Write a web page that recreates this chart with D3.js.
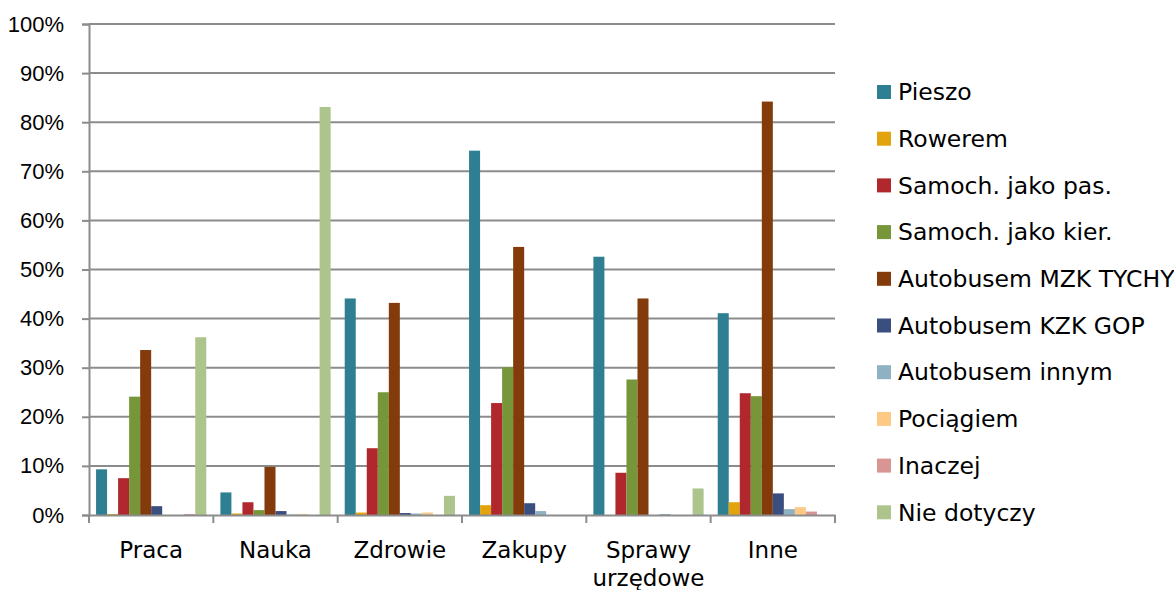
<!DOCTYPE html>
<html>
<head>
<meta charset="utf-8">
<script src="https://cdn.jsdelivr.net/npm/d3@7"></script>
<style>
  body { margin: 0; background: #fff; overflow: hidden; }
  svg { display: block; }
</style>
</head>
<body>
<svg id="chart"></svg>
<script>
const categories = ["Praca", "Nauka", "Zdrowie", "Zakupy", "Sprawy urzędowe", "Inne"];
const seriesNames = [
  "Pieszo", "Rowerem", "Samoch. jako pas.", "Samoch. jako kier.",
  "Autobusem MZK TYCHY", "Autobusem KZK GOP", "Autobusem innym",
  "Pociągiem", "Inaczej", "Nie dotyczy"
];
const colors = [
  "#2e7f92", "#e3a30c", "#b0282d", "#77963a", "#833b0b",
  "#3b4e80", "#8fb2c2", "#fdc984", "#d99594", "#adc48d"
];
// values per series, in category order (%)
const pieszo = [9.3, 4.6, 44.1, 74.2, 52.6, 41.1];
const rowerem = [0.2, 0.3, 0.5, 2.0, 0, 2.6];
const samochPas = [7.5, 2.6, 13.6, 22.8, 8.6, 24.8];
const samochKier = [24.1, 1.0, 25.0, 30.1, 27.6, 24.2];
const mzkTychy = [33.6, 9.8, 43.2, 54.6, 44.1, 84.2];
const kzkGop = [1.8, 0.8, 0.4, 2.4, 0, 4.4];
const innym = [0, 0.1, 0.3, 0.8, 0.2, 1.2];
const pociagiem = [0, 0.2, 0.5, 0, 0, 1.6];
const inaczej = [0.2, 0, 0, 0, 0, 0.7];
const nieDotyczy = [36.2, 83.1, 3.9, 0, 5.4, 0];
const yTicks = [0, 10, 20, 30, 40, 50, 60, 70, 80, 90, 100];

const series = [pieszo, rowerem, samochPas, samochKier, mzkTychy, kzkGop, innym, pociagiem, inaczej, nieDotyczy];

const width = 1174;
const height = 590;
const margin = { top: 24, right: 339, bottom: 75, left: 89 };
const font = "DejaVu Sans, Verdana, sans-serif";
const yFont = "Liberation Sans, Arial, sans-serif";

const svg = d3.select("#chart").attr("width", width).attr("height", height);

const x0 = d3.scaleBand()
  .domain(categories)
  .range([margin.left, width - margin.right])
  .padding(0);

const x1 = d3.scaleBand()
  .domain(d3.range(series.length))
  .range([0, x0.bandwidth()])
  .paddingInner(0)
  .paddingOuter(0.64);

const y = d3.scaleLinear()
  .domain([0, 100])
  .range([height - margin.bottom, margin.top]);

// gridlines
svg.append("g")
  .selectAll("line")
  .data(yTicks.filter(d => d > 0))
  .join("line")
  .attr("x1", margin.left)
  .attr("x2", width - margin.right)
  .attr("y1", d => y(d))
  .attr("y2", d => y(d))
  .attr("stroke", "#8c8c8c")
  .attr("stroke-width", 2);

// bars
const groups = svg.append("g")
  .selectAll("g")
  .data(categories)
  .join("g")
  .attr("transform", d => `translate(${x0(d)},0)`);

groups.selectAll("rect")
  .data((c, ci) => series.map((s, si) => ({ si, v: s[ci] })))
  .join("rect")
  .attr("x", d => x1(d.si))
  .attr("y", d => y(d.v))
  .attr("width", x1.bandwidth())
  .attr("height", d => y(0) - y(d.v))
  .attr("fill", d => colors[d.si]);

// y axis
const yAxis = svg.append("g")
  .attr("transform", `translate(${margin.left},0)`)
  .call(d3.axisLeft(y).tickValues(yTicks).tickFormat(d => d + "%").tickSize(7).tickPadding(18));
yAxis.select(".domain").attr("stroke", "#8c8c8c").attr("stroke-width", 2);
yAxis.selectAll(".tick line").attr("stroke", "#8c8c8c").attr("stroke-width", 2);
yAxis.selectAll("text")
  .attr("font-family", yFont)
  .attr("font-size", 22)
  .attr("fill", "#000");

// x axis
const xAxis = svg.append("g")
  .attr("transform", `translate(0,${y(0)})`)
  .call(d3.axisBottom(x0).tickSize(0).tickSizeOuter(0).tickFormat(""));
xAxis.select(".domain").attr("stroke", "#8c8c8c").attr("stroke-width", 2);

// tick marks between categories
const bounds = categories.map(c => x0(c)).concat([x0(categories[categories.length - 1]) + x0.bandwidth()]);
xAxis.selectAll(".sep")
  .data(bounds)
  .join("line")
  .attr("class", "sep")
  .attr("x1", d => d)
  .attr("x2", d => d)
  .attr("y1", 0)
  .attr("y2", 8)
  .attr("stroke", "#8c8c8c")
  .attr("stroke-width", 2);

// category labels (wrap "Sprawy urzędowe")
xAxis.selectAll(".lbl")
  .data(categories)
  .join("text")
  .attr("class", "lbl")
  .attr("x", d => x0(d) + x0.bandwidth() / 2)
  .attr("y", 43)
  .attr("text-anchor", "middle")
  .attr("font-family", font)
  .attr("font-size", 23)
  .attr("fill", "#000")
  .each(function (d) {
    const words = d.split(" ");
    const t = d3.select(this);
    words.forEach((w, i) => {
      t.append("tspan")
        .attr("x", x0(d) + x0.bandwidth() / 2)
        .attr("dy", i === 0 ? 0 : 28)
        .text(w);
    });
  });

// legend
const legend = svg.append("g").attr("transform", "translate(877,92)");
const items = legend.selectAll("g")
  .data(seriesNames)
  .join("g")
  .attr("transform", (d, i) => `translate(0,${i * 46.7})`);
items.append("rect")
  .attr("x", 0)
  .attr("y", -7)
  .attr("width", 14)
  .attr("height", 14)
  .attr("fill", (d, i) => colors[i]);
items.append("text")
  .attr("x", 21)
  .attr("y", 0)
  .attr("dy", "0.35em")
  .attr("font-family", font)
  .attr("font-size", 23.5)
  .attr("fill", "#000")
  .text(d => d);
</script>
</body>
</html>
